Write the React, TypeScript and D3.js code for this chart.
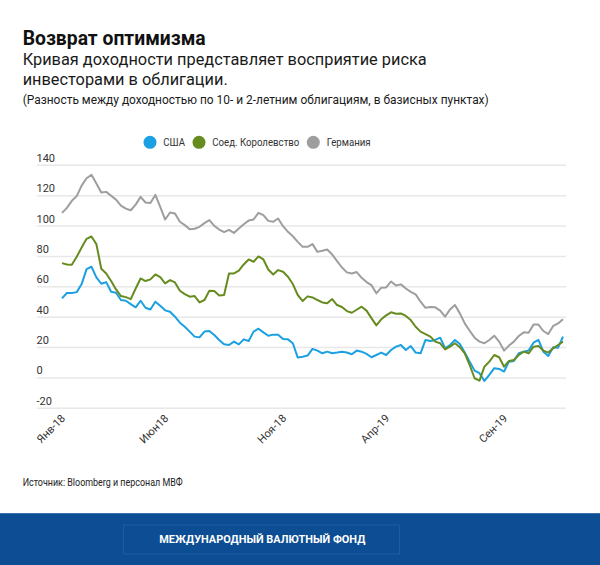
import React from "react";
import * as d3 from "d3";

const seriesNames = ["США", "Соед. Королевство", "Германия"];
const seriesColors = ["#1ba0e1", "#668c1f", "#9e9e9e"];

const usValues = [
  52.4, 55.9, 55.9, 56.5, 61.8, 71.6, 73.2, 66.2, 62.0, 63.1, 56.7, 56.1, 51.3, 50.8, 48.6, 46.5, 50.8, 46.2, 45.1, 50.2,
  47.5, 44.5, 43.6, 40.3, 36.4, 33.7, 30.5, 27.2, 26.7, 30.5, 30.9, 28.3, 25.0, 22.1, 21.7,
  23.9, 22.1, 25.4, 24.3, 30.5, 32.4, 30.0, 27.8, 28.5, 28.5, 25.6, 25.4, 22.8, 13.4, 14.0, 14.7, 19.1, 18.0, 16.2, 17.3,
  16.2, 16.7, 17.3, 16.7, 15.6, 18.0, 17.3, 15.8, 13.6, 15.1, 16.7, 15.1, 18.4, 20.6,
  21.7, 18.4, 21.0, 16.7, 16.2, 25.0, 24.3, 25.0, 26.5, 19.5, 21.7, 25.0, 22.3, 16.7, 10.7, 4.8, 3.1, -2.0, 2.0, 6.4,
  5.9, 4.2, 10.7, 11.2, 16.2, 17.3, 18.0, 23.2, 25.0, 17.3, 14.5, 20.2, 19.9, 27.2,
];

const ukValues = [
  75.6, 74.7, 74.5, 79.8, 85.9, 91.6, 93.1, 88.1, 71.9, 68.8, 63.8, 58.3, 53.9, 53.2, 51.9, 58.9, 65.5, 63.8, 64.9, 68.1,
  66.3, 62.3, 64.4, 62.9, 57.4, 55.2, 53.5, 53.9, 49.7, 51.3, 57.4, 57.2, 54.3, 54.6, 68.8,
  68.8, 70.6, 74.7, 78.0, 76.5, 80.0, 78.0, 71.4, 68.1, 71.0, 69.9, 66.6, 61.8, 54.6, 50.6, 53.7, 53.0, 51.3, 49.7, 49.1,
  51.9, 48.0, 46.7, 44.0, 42.9, 44.9, 46.9, 44.3, 39.4, 34.6, 38.6, 41.2, 43.2, 42.3,
  42.5, 40.8, 38.1, 33.7, 30.5, 28.9, 27.2, 23.9, 22.8, 18.8, 20.6, 22.8, 20.2, 16.2, 8.5, -0.2, -1.8, 7.4, 10.7, 15.1,
  13.6, 7.4, 11.2, 11.8, 15.1, 17.3, 16.2, 20.6, 21.0, 18.0, 16.7, 19.5, 21.7, 23.9,
];

const deValues = [
  108.7, 112.0, 116.6, 119.7, 126.6, 131.5, 133.7, 128.0, 122.1, 122.5, 119.9, 117.4, 113.5, 111.5, 110.4, 114.1, 119.2, 115.5, 115.2, 120.5,
  112.6, 104.3, 108.9, 108.2, 102.8, 100.6, 97.9, 98.2, 99.5, 101.9, 103.9, 100.1, 97.7, 96.0, 97.5,
  95.5, 98.4, 101.2, 103.6, 104.3, 108.7, 107.2, 103.4, 102.8, 105.0, 99.9, 96.2, 93.3, 89.6, 86.3, 86.3, 88.1, 83.0, 83.7, 84.6,
  81.3, 76.9, 72.7, 69.5, 68.8, 69.7, 65.9, 63.1, 61.1, 55.7, 59.4, 59.6, 63.5, 60.9,
  61.6, 58.9, 56.7, 55.0, 50.2, 46.2, 46.7, 46.5, 44.3, 40.3, 45.1, 48.0, 42.5, 35.9, 31.1, 26.5, 23.9, 22.8, 25.0, 27.8,
  23.9, 18.0, 21.3, 23.9, 27.6, 30.0, 29.8, 35.1, 35.1, 30.9, 28.9, 34.2, 35.9, 38.6,
];

const xTickIndex = [0, 21, 45, 66, 90];
const xTickLabels = ["Янв-18", "Июн18", "Ноя-18", "Апр-19", "Сен-19"];
const yTicks = [-20, 0, 20, 40, 60, 80, 100, 120, 140];

const FONT = "Roboto, 'Noto Sans', sans-serif";

export default function App() {
  const W = 600;
  const H = 565;
  const series = [usValues, ukValues, deValues];
  const n = usValues.length;

  const x = d3.scaleLinear().domain([0, n - 1]).range([62, 563]);
  const y = d3.scaleLinear().domain([-20, 140]).range([408.3, 165.3]);
  const line = d3
    .line<number>()
    .x((_, i) => x(i))
    .y((d) => y(d));

  const legendItems = [
    { cx: 150, tx: 163.3, w: 21.7 },
    { cx: 199, tx: 212.3, w: 87 },
    { cx: 313.3, tx: 326.7, w: 44 },
  ];

  return (
    <svg
      width={W}
      height={H}
      style={{ position: "absolute", left: 0, top: 0, background: "#fff" }}
      fontFamily={FONT}
    >
      <rect x={0} y={0} width={W} height={H} fill="#fff" />
      <text x={22.7} y={45} fontSize={20} fontWeight={700} fill="#111" textLength={183} lengthAdjust="spacingAndGlyphs">
        Возврат оптимизма
      </text>
      <text x={22.7} y={65} fontSize={16.5} fill="#1a1a1a" textLength={404} lengthAdjust="spacingAndGlyphs">
        Кривая доходности представляет восприятие риска
      </text>
      <text x={22.7} y={85} fontSize={16.5} fill="#1a1a1a" textLength={205} lengthAdjust="spacingAndGlyphs">
        инвесторами в облигации.
      </text>
      <text x={22.7} y={104} fontSize={12.8} fill="#1a1a1a" textLength={466} lengthAdjust="spacingAndGlyphs">
        (Разность между доходностью по 10- и 2-летним облигациям, в базисных пунктах)
      </text>

      {seriesNames.map((name, i) => (
        <g key={name}>
          <circle cx={legendItems[i].cx} cy={142.3} r={6.5} fill={seriesColors[i]} />
          <text
            x={legendItems[i].tx}
            y={146.3}
            fontSize={11.5}
            fill="#333"
            textLength={legendItems[i].w}
            lengthAdjust="spacingAndGlyphs"
          >
            {name}
          </text>
        </g>
      ))}

      {yTicks.map((t) => (
        <g key={t}>
          <line x1={37} x2={566} y1={y(t)} y2={y(t)} stroke="#e8e8e8" strokeWidth={1.5} />
          <text x={36.5} y={y(t) - 3.5} fontSize={11} fill="#333">
            {t}
          </text>
        </g>
      ))}

      {xTickIndex.map((ti, k) => (
        <text
          key={ti}
          transform={`translate(${x(ti) + 4},${419}) rotate(-45)`}
          textAnchor="end"
          fontSize={11}
          fill="#333"
        >
          {xTickLabels[k]}
        </text>
      ))}

      {series.map((s, i) => (
        <path
          key={i}
          d={line(s) || ""}
          fill="none"
          stroke={seriesColors[i]}
          strokeWidth={2}
          strokeLinejoin="round"
        />
      ))}

      <text x={22.7} y={486} fontSize={10.3} fill="#222" textLength={160} lengthAdjust="spacingAndGlyphs">
        Источник: Bloomberg и персонал МВФ
      </text>

      <rect x={0} y={513} width={W} height={H - 513} fill="#0c4d93" />
      <line x1={0} x2={W} y1={513.5} y2={513.5} stroke="#3a72b0" strokeWidth={1} />
      <rect x={123.5} y={525} width={276} height={29} fill="none" stroke="#1d5c9f" strokeWidth={1} />
      <text
        x={159.3}
        y={543}
        fontSize={11.5}
        fontWeight={700}
        fill="#fff"
        textLength={206}
        lengthAdjust="spacingAndGlyphs"
      >
        МЕЖДУНАРОДНЫЙ ВАЛЮТНЫЙ ФОНД
      </text>
    </svg>
  );
}
